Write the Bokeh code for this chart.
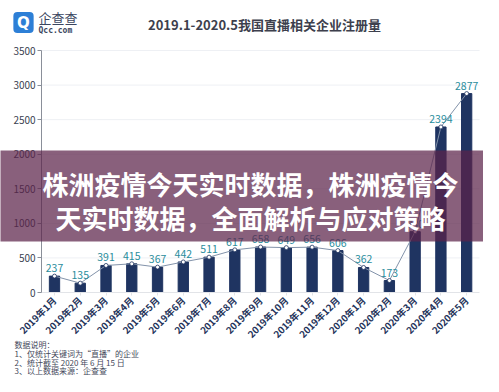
import math
from bokeh.plotting import figure
from bokeh.models import Label, Range1d, FixedTicker, ColumnDataSource
from bokeh.embed import file_html
from bokeh.resources import INLINE
from bokeh.core.properties import value

# ---------------- data ----------------
months = ["2019年1月", "2019年2月", "2019年3月", "2019年4月", "2019年5月", "2019年6月",
          "2019年7月", "2019年8月", "2019年9月", "2019年10月", "2019年11月", "2019年12月",
          "2020年1月", "2020年2月", "2020年3月", "2020年4月", "2020年5月"]
counts = [237, 135, 391, 415, 367, 442, 511, 617, 658, 649, 656, 606, 362, 173, 880, 2394, 2877]
y_ticks = [0, 500, 1000, 1500, 2000, 2500, 3000, 3500]
title_text = "2019.1-2020.5我国直播相关企业注册量"
logo_name = "企查查"
logo_url = "Qcc.com"
banner_lines = ["株洲疫情今天实时数据，株洲疫情今", "天实时数据，全面解析与应对策略"]
notes = ["数据说明：", "1、仅统计关键词为“直播”的企业", "2、统计截至 2020 年 6 月 15 日", "3、以上数据来源：企查查"]

CJK = "Noto Sans CJK SC"
BAR = "#1f3461"
TEAL = "#2a8d9c"

W, H = 483, 376
X0, XS = 54.0, 25.76          # pixel of first category, pixels per category
Y0, YS = 292.0, 3500 / 242    # pixel of value 0, values per pixel

idx = list(range(len(months)))
src = ColumnDataSource(dict(i=idx, v=counts, t=[str(c) for c in counts]))

p = figure(width=W, height=H, output_backend="svg", toolbar_location=None,
           x_range=Range1d((0 - X0) / XS, (W - X0) / XS),
           y_range=Range1d((Y0 - H) * YS, Y0 * YS),
           min_border=0, min_border_left=0, min_border_right=0, min_border_top=0, min_border_bottom=0,
           title=None)
p.outline_line_color = None
p.background_fill_color = "white"
p.border_fill_color = "white"
p.xgrid.visible = False
p.ygrid.visible = False

def dx(px):
    return (px - X0) / XS

def dy(py):
    return (Y0 - py) * YS

# axes placed at fixed data locations inside the frame
p.yaxis.fixed_location = -0.5
p.yaxis.bounds = (0, 3500)
p.yaxis.ticker = FixedTicker(ticks=y_ticks)
p.yaxis.axis_line_color = "#8a8f99"
p.yaxis.major_tick_line_color = "#8a8f99"
p.yaxis.major_tick_out = 4
p.yaxis.major_tick_in = 0
p.yaxis.minor_tick_line_color = None
p.yaxis.major_label_standoff = 2
p.yaxis.major_label_text_font = CJK
p.yaxis.major_label_text_font_size = "10px"
p.yaxis.major_label_text_color = "#3a3f50"

p.xaxis.fixed_location = 0
p.xaxis.bounds = (-0.5, 16.5)
p.xaxis.ticker = FixedTicker(ticks=idx)
p.xaxis.major_label_overrides = {i: m for i, m in zip(idx, months)}
p.xaxis.axis_line_color = "#e2e4e8"
p.xaxis.major_tick_line_color = "#e2e4e8"
p.xaxis.minor_tick_line_color = None
p.xaxis.major_tick_out = 3
p.xaxis.major_tick_in = 0
p.xaxis.major_label_orientation = math.pi / 4
p.xaxis.major_label_standoff = 3
p.xaxis.major_label_text_font = CJK
p.xaxis.major_label_text_font_size = "9.5px"
p.xaxis.major_label_text_font_style = "bold"
p.xaxis.major_label_text_color = "#24335a"

# horizontal grid lines at the tick values
p.segment(x0=-0.5, x1=16.5, y0=y_ticks[1:], y1=y_ticks[1:], line_color="#eef0f4", line_width=1)

# marks
p.vbar(x="i", top="v", width=0.4, source=src, fill_color=BAR, line_color=BAR)
p.line(x="i", y="v", source=src, line_color="#8393aa", line_width=1)
p.scatter(x="i", y="v", source=src, size=4, fill_color="white", line_color=BAR, line_width=0.8)
p.text(x="i", y="v", text="t", source=src, text_align="center", text_baseline="bottom",
       y_offset=-4, text_font=value(CJK), text_font_size="10.5px", text_color=TEAL)

# title
p.add_layout(Label(x=dx(264), y=dy(24), text=title_text, text_align="center", text_baseline="middle",
                   text_font=CJK, text_font_size="13px", text_font_style="bold", text_color="#3d3f4d"))

# logo
p.add_layout(Label(x=dx(23), y=dy(22), text=" ", text_align="center", text_baseline="middle",
                   text_font_size="1px", background_fill_color="#2d7fd6", border_radius=4,
                   padding=10))
p.add_layout(Label(x=dx(23), y=dy(22), text="Q", text_align="center", text_baseline="middle",
                   text_font="DejaVu Sans", text_font_size="15px", text_font_style="bold", text_color="white"))
p.add_layout(Label(x=dx(38), y=dy(17), text=logo_name, text_align="left", text_baseline="middle",
                   text_font=CJK, text_font_size="13px", text_color="#3b4660"))
p.add_layout(Label(x=dx(38), y=dy(29.5), text=logo_url, text_align="left", text_baseline="middle",
                   text_font="DejaVu Sans Mono", text_font_size="8px", text_font_style="bold", text_color="#3b4660"))

# notes
for t, py in zip(notes, [344, 353, 361.5, 369.5]):
    p.add_layout(Label(x=dx(14), y=dy(py), text=t, text_align="left", text_baseline="middle",
                       text_font=CJK, text_font_size="8px", text_color="#44485a"))

# banner overlay
p.add_layout(Label(x=dx(249.5), y=dy(195.5), text=" ", text_align="center", text_baseline="middle",
                   text_font_size="1px", background_fill_color="#5c2249", background_fill_alpha=0.72,
                   padding=dict(left=250, right=250, top=45, bottom=45)))
for t, py in zip(banner_lines, [183, 217]):
    p.add_layout(Label(x=dx(250), y=dy(py), text=t, text_align="center", text_baseline="middle",
                       text_font=CJK, text_font_size="26px", text_font_style="bold", text_color="white"))

open("out.html", "w").write(file_html(p, INLINE))
